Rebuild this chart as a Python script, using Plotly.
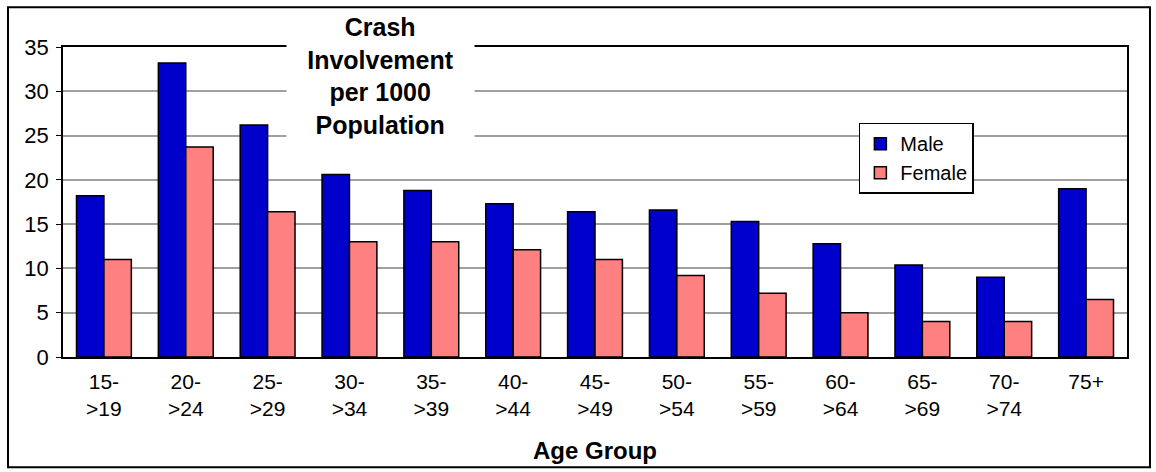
import plotly.graph_objects as go

age_groups = ["15->19", "20->24", "25->29", "30->34", "35->39", "40->44", "45->49",
              "50->54", "55->59", "60->64", "65->69", "70->74", "75+"]
tick_labels = ["15-<br>>19", "20-<br>>24", "25-<br>>29", "30-<br>>34", "35-<br>>39",
               "40-<br>>44", "45-<br>>49", "50-<br>>54", "55-<br>>59", "60-<br>>64",
               "65-<br>>69", "70-<br>>74", "75+"]
male = [18.2, 33.2, 26.2, 20.6, 18.8, 17.3, 16.4, 16.6, 15.3, 12.8, 10.4, 9.0, 19.0]
female = [11.0, 23.7, 16.4, 13.0, 13.0, 12.1, 11.0, 9.2, 7.2, 5.0, 4.0, 4.0, 6.5]

FONT = "Liberation Sans, Arial, sans-serif"

fig = go.Figure()
fig.add_trace(go.Bar(x=age_groups, y=male, name="Male",
                     marker=dict(color="#0000CC", line=dict(color="black", width=1.5))))
fig.add_trace(go.Bar(x=age_groups, y=female, name="Female",
                     marker=dict(color="#FF8080", line=dict(color="black", width=1.5))))

fig.update_layout(
    width=1156, height=472,
    margin=dict(l=63, r=29, t=47, b=113),
    paper_bgcolor="white", plot_bgcolor="white",
    barmode="group", bargap=0.33, bargroupgap=0,
    font=dict(family=FONT, size=21, color="black"),
    showlegend=True,
    legend=dict(x=0.748, y=0.756, xanchor="left", yanchor="top",
                bordercolor="black", borderwidth=1.5, bgcolor="white",
                font=dict(size=20), tracegroupgap=0, itemwidth=30),
)
fig.update_xaxes(
    tickmode="array", tickvals=age_groups, ticktext=tick_labels,
    showline=True, linecolor="black", linewidth=1.5, mirror=True,
    ticks="", ticklabelstandoff=5,
    tickfont=dict(size=21),
    title=dict(text="<b>Age Group</b>", font=dict(size=24), standoff=23),
)
fig.update_yaxes(
    range=[0, 35], dtick=5,
    showline=True, linecolor="black", linewidth=1.5, mirror=True,
    ticks="outside", ticklen=5, tickcolor="black", ticklabelstandoff=3,
    tickfont=dict(size=22),
    showgrid=True, gridcolor="#A0A0A0", gridwidth=1.5,
    zeroline=False,
)

fig.add_annotation(
    text="<b>Crash<br>Involvement<br>per 1000<br>Population</b>",
    xref="paper", yref="paper", x=0.298, y=1.1186, xanchor="center", yanchor="top",
    showarrow=False, bgcolor="white", width=183, align="center", borderpad=2,
    font=dict(size=25, family=FONT, color="black"),
)

fig.add_shape(type="rect", xref="paper", yref="paper",
              x0=-0.0517, x1=1.0216, y0=-0.356, y1=1.128,
              line=dict(color="black", width=2), fillcolor="rgba(0,0,0,0)", layer="above")

fig.write_html("out.html", config={"displayModeBar": False},
               post_script="document.body.style.margin='0';")
